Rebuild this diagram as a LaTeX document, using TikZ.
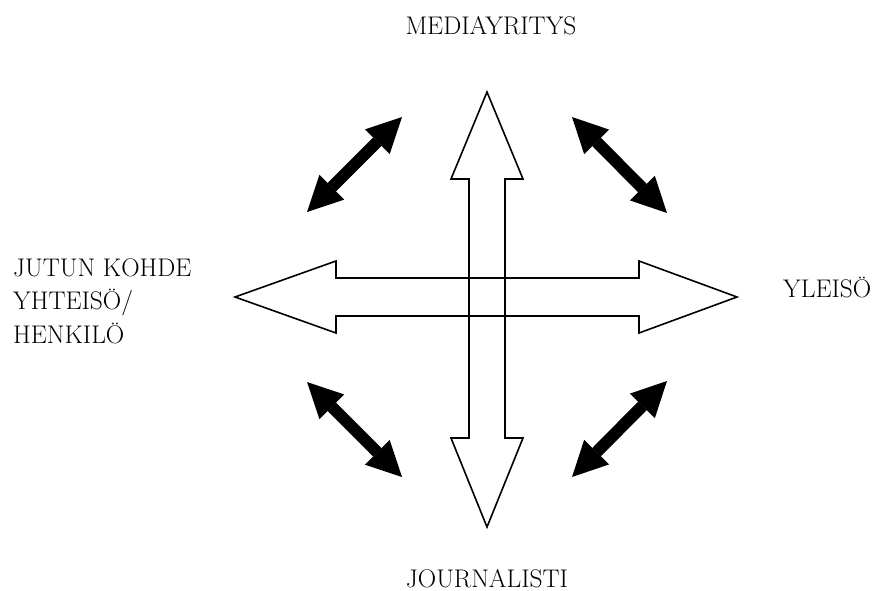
\documentclass[tikz,border=0pt]{standalone}
\usepackage{fontspec}
\usetikzlibrary{arrows.meta}

\begin{document}
\begin{tikzpicture}[x=1pt,y=-1pt,
  hollow/.style={draw=black,line width=1.6pt,line join=miter},
  twoway/.style={line width=12pt,
    {Triangle[length=35pt,width=35pt,line width=0pt]}-{Triangle[length=35pt,width=35pt,line width=0pt]}},
  lbl/.style={inner sep=0pt,font=\fontsize{25.5}{33.5}\selectfont}]
\useasboundingbox (0,0) rectangle (879,591);
% the two big hollow arrows
\draw [hollow] (235,297) -- (336,261) -- (336,278) -- (639,278) -- (639,261)
  -- (737,297) -- (639,333) -- (639,316) -- (336,316) -- (336,333) -- cycle;
\draw [hollow] (487,92) -- (523,179) -- (505,179) -- (505,438) -- (523,438)
  -- (487,527) -- (451,438) -- (469,438) -- (469,179) -- (451,179) -- cycle;
% labels
\node [lbl,anchor=base] (media) at (491,35) {MEDIAYRITYS};
\node [lbl,anchor=base] (journ) at (487,587) {JOURNALISTI};
\node [lbl,anchor=base west] (yleiso) at (783,297) {YLEISÖ};
\node [lbl,anchor=base west,align=left] (kohde) at (13,343) {JUTUN KOHDE\\YHTEISÖ/\\HENKILÖ};
% ends of the black double arrows
\coordinate (ulA) at (402,117);
\coordinate (ulB) at (307,212);
\coordinate (urA) at (572,117);
\coordinate (urB) at (667,213);
\coordinate (llA) at (307,382);
\coordinate (llB) at (402,477);
\coordinate (lrA) at (667,381);
\coordinate (lrB) at (572,477);
\draw [twoway] (ulA) -- (ulB);
\draw [twoway] (urA) -- (urB);
\draw [twoway] (llA) -- (llB);
\draw [twoway] (lrA) -- (lrB);
\end{tikzpicture}
\end{document}
